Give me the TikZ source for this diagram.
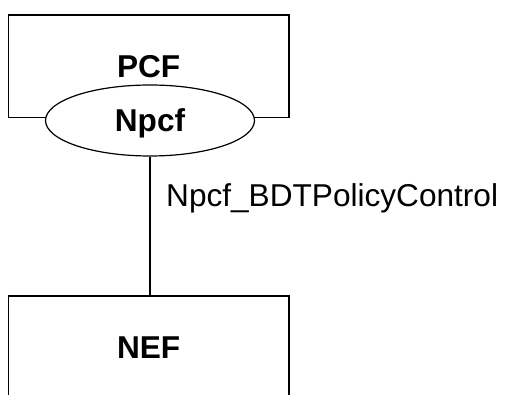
\documentclass[tikz,border=0pt]{standalone}
\usepackage{fontspec}
\setmainfont{Liberation Sans}
\usetikzlibrary{shapes.geometric}
\newcommand{\bigtxt}{\fontsize{31.6}{36}\selectfont}

\tikzset{
  nfbox/.style={draw,line width=1.2pt,inner sep=0pt,text depth=0pt,font=\bigtxt\bfseries},
  svcell/.style={ellipse,draw,fill=white,line width=1.2pt,inner sep=0pt,text depth=0pt,
    minimum width=209pt,minimum height=71pt,font=\bigtxt\bfseries},
  iflabel/.style={anchor=base west,inner sep=0pt,font=\bigtxt}
}

\begin{document}
\begin{tikzpicture}[x=1pt,y=1pt]
  \useasboundingbox (0,0) rectangle (505,394);
  \clip (0,0) rectangle (505,394);
  % network functions
  \node[nfbox,minimum width=280.7pt,minimum height=102.3pt] (pcf) at (148.65,327.85) {PCF};
  \node[svcell] (npcf) at (150,273.5) {Npcf};
  \node[nfbox,minimum width=280.7pt,minimum height=103.6pt] (nef) at (148.65,46.2) {NEF};
  % service interface
  \draw[line width=1.2pt] (npcf.south) -- (npcf.south |- nef.north);
  \node[iflabel] (svc) at (166,187.3) {Npcf\_BDTPolicyControl};
\end{tikzpicture}
\end{document}
